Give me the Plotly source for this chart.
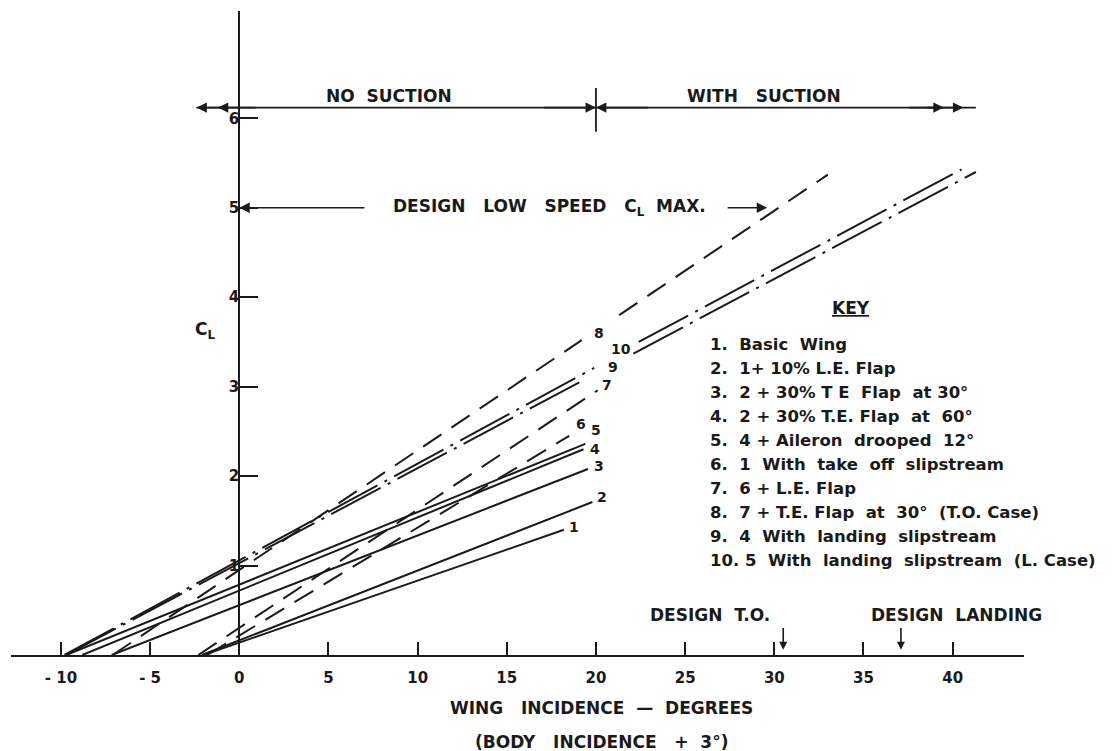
import plotly.graph_objects as go

# ---------------- data ----------------
# wing incidence (deg) and lift coefficient for each curve; None = gap for the label
inc_1 = [-2.0, 18.2]
cl_1 = [0.0, 1.40]
inc_2 = [-2.1, 19.8]
cl_2 = [0.0, 1.71]
inc_3 = [-7.15, 19.55]
cl_3 = [0.0, 2.08]
inc_4 = [-8.8, 19.3]
cl_4 = [0.0, 2.30]
inc_5 = [-9.7, 19.4]
cl_5 = [0.0, 2.36]
inc_6 = [-1.8, 18.5]
cl_6 = [0.0, 2.45]
inc_7 = [-2.3, 20.1]
cl_7 = [0.0, 2.96]
inc_8 = [-7.1, 19.2, None, 21.3, 33.0]
cl_8 = [0.0, 3.52, None, 3.80, 5.37]
inc_9 = [-9.7, 19.45, None, 22.1, 41.3]
cl_9 = [0.0, 3.09, None, 3.37, 5.40]
inc_10 = [-9.8, 19.9, None, 22.4, 40.5]
cl_10 = [0.0, 3.21, None, 3.50, 5.43]

curve_ids = ["1", "2", "3", "4", "5", "6", "7", "8", "9", "10"]

key_title = "KEY"
key_labels = [
    "1.  Basic  Wing",
    "2.  1+ 10% L.E. Flap",
    "3.  2 + 30% T E  Flap  at 30°",
    "4.  2 + 30% T.E. Flap  at  60°",
    "5.  4 + Aileron  drooped  12°",
    "6.  1  With  take  off  slipstream",
    "7.  6 + L.E. Flap",
    "8.  7 + T.E. Flap  at  30°  (T.O. Case)",
    "9.  4  With  landing  slipstream",
    "10. 5  With  landing  slipstream  (L. Case)",
]

x_tick_vals = [-10, -5, 0, 5, 10, 15, 20, 25, 30, 35, 40]
x_tick_text = ["- 10", "- 5", "0", "5", "10", "15", "20", "25", "30", "35", "40"]
y_tick_vals = [1, 2, 3, 4, 5, 6]
y_tick_text = ["1", "2", "3", "4", "5", "6"]

# reference marks (data units)
suction_boundary = 20.0
design_cl_max = 5.0
design_to_inc = 30.5
design_landing_inc = 37.1

# ---------------- styling ----------------
INK = "#1a1a1a"
FONT = "DejaVu Sans"
solid = "solid"
dashed = "22px,12px"
dashdot = "56px,8px,3px,8px"
styles = [solid, solid, solid, solid, solid, dashed, dashed, dashed, dashdot, dashdot]
# label offsets (px) from end of first segment
label_shift = [(10, 3), (10, 5), (11, 3), (12, 0), (11, 14), (12, 12), (9, 5), (17, 7), (27, 12), (27, 19)]

xs = [inc_1, inc_2, inc_3, inc_4, inc_5, inc_6, inc_7, inc_8, inc_9, inc_10]
ys = [cl_1, cl_2, cl_3, cl_4, cl_5, cl_6, cl_7, cl_8, cl_9, cl_10]

fig = go.Figure()
for cid, xv, yv, dsh in zip(curve_ids, xs, ys, styles):
    fig.add_trace(go.Scatter(x=xv, y=yv, mode="lines", name=cid,
                             line=dict(color=INK, width=2, dash=dsh),
                             connectgaps=False, hoverinfo="skip"))

annotations = []
for cid, xv, yv, (dx, dy) in zip(curve_ids, xs, ys, label_shift):
    end = xv.index(None) - 1 if None in xv else len(xv) - 1
    annotations.append(dict(x=xv[end], y=yv[end], xref="x", yref="y", text=cid,
                            showarrow=False, xanchor="center", yanchor="middle",
                            xshift=dx, yshift=dy,
                            font=dict(size=14, family=FONT, color=INK, weight="bold")))

def arrow(hx, hy, tx, ty, size=1.3):
    return dict(x=hx, y=hy, ax=tx, ay=ty, xref="x", yref="y", axref="x", ayref="y",
                text="", showarrow=True, arrowhead=2, arrowsize=size, arrowwidth=1.6,
                arrowcolor=INK, standoff=0, startstandoff=0)

def label(x, y, text, size=17, xanchor="center", yref="y", xref="x"):
    return dict(x=x, y=y, xref=xref, yref=yref, text=text, showarrow=False,
                xanchor=xanchor, yanchor="middle",
                font=dict(size=size, family=FONT, color=INK, weight="bold"))

top = 6.12
annotations += [
    arrow(-2.4, top, -0.5, top), arrow(-1.2, top, 1.0, top),
    arrow(suction_boundary, top, 17, top), arrow(suction_boundary, top, 23, top),
    arrow(40.6, top, 38.5, top), arrow(39.5, top, 37.5, top),
    label(8.4, 6.25, "NO  SUCTION"),
    label(29.4, 6.25, "WITH   SUCTION"),
    arrow(0, design_cl_max, 7.1, design_cl_max),
    arrow(29.6, design_cl_max, 27.3, design_cl_max),
    label(17.4, design_cl_max, "DESIGN   LOW   SPEED   C<sub>L</sub>  MAX."),
    label(26.4, 0.45, "DESIGN  T.O."),
    label(40.2, 0.45, "DESIGN  LANDING"),
    arrow(design_to_inc, 0.06, design_to_inc, 0.32, 1.0),
    arrow(design_landing_inc, 0.06, design_landing_inc, 0.32, 1.0),
    label(-1.9, 3.63, "C<sub>L</sub>", size=17),
    label(20.3, -0.0823, "WING   INCIDENCE  —  DEGREES", yref="paper"),
    label(20.3, -0.135, "(BODY   INCIDENCE   +  3°)", yref="paper"),
    label(34.3, 3.88, "<u>" + key_title + "</u>"),
]
key_x = 26.3
key_y0 = 3.47
key_step = 0.2685
for i, t in enumerate(key_labels):
    annotations.append(label(key_x, key_y0 - i * key_step, t, size=16.5, xanchor="left"))

shapes = [
    dict(type="line", xref="x", yref="y", x0=-2.4, x1=41.3, y0=top, y1=top,
         line=dict(color=INK, width=1.8)),
    dict(type="line", xref="x", yref="y", x0=suction_boundary, x1=suction_boundary,
         y0=5.85, y1=6.34, line=dict(color=INK, width=1.8)),
]

fig.update_layout(
    width=1112, height=751,
    margin=dict(l=3, r=96, t=3, b=104, autoexpand=False),
    plot_bgcolor="white", paper_bgcolor="white",
    showlegend=False,
    font=dict(family=FONT, color=INK),
    annotations=annotations, shapes=shapes,
    xaxis=dict(range=[-12.8, 44.0], tickmode="array", tickvals=x_tick_vals, ticktext=x_tick_text,
               ticks="inside", ticklen=13, tickwidth=1.6, tickcolor=INK,
               showline=True, linecolor=INK, linewidth=2, automargin=False,
               showgrid=False, zeroline=True, zerolinecolor=INK, zerolinewidth=2.2,
               ticklabelstandoff=8,
               tickfont=dict(size=15, family=FONT, color=INK, weight="bold")),
    yaxis=dict(range=[0, 7.2], tickmode="array", tickvals=y_tick_vals, ticktext=y_tick_text,
               anchor="free", position=12.8 / 56.8, side="left", automargin=False,
               ticks="inside", ticklen=18, tickwidth=1.6, tickcolor=INK,
               showline=False, showgrid=False, zeroline=False,
               tickfont=dict(size=15, family=FONT, color=INK, weight="bold")),
)

fig.write_html("out.html")
